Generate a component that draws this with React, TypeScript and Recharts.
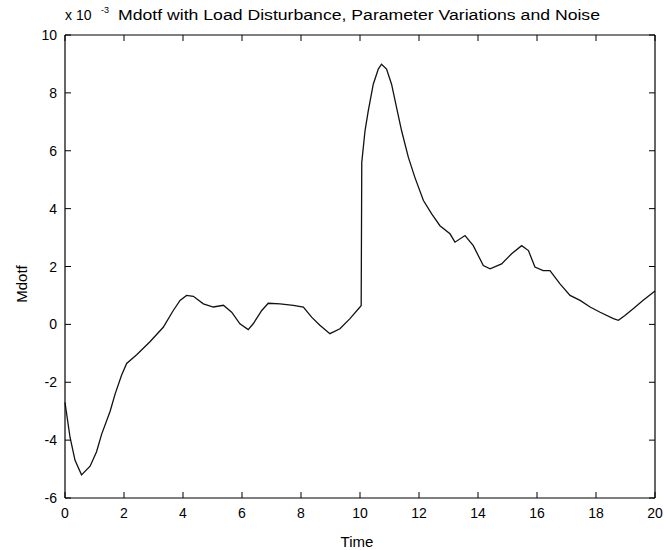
import { LineChart, Line, XAxis, YAxis } from 'recharts'

const TIME = [
  0, 0.17, 0.34, 0.56, 0.85, 1.07, 1.24, 1.53, 1.7, 1.92,
  2.09, 2.43, 2.88, 3.33, 3.67, 3.9, 4.12, 4.35, 4.69, 5.03,
  5.37, 5.65, 5.93, 6.21, 6.38, 6.67, 6.89, 7.29, 7.74, 8.08,
  8.36, 8.64, 8.98, 9.32, 9.66, 10.0, 10.04, 10.06, 10.17, 10.28,
  10.45, 10.62, 10.73, 10.9, 11.07, 11.24, 11.41, 11.64, 11.86, 12.15,
  12.43, 12.71, 13.05, 13.22, 13.56, 13.84, 14.18, 14.41, 14.8, 15.14,
  15.48, 15.71, 15.93, 16.21, 16.44, 16.78, 17.12, 17.46, 17.8, 18.14,
  18.59, 18.76, 18.98, 19.26, 19.6, 20,
]

// Mdotf, in units of 1e-3
const MDOTF = [
  -2.7, -3.9, -4.7, -5.2, -4.9, -4.4, -3.8, -3.0, -2.4, -1.75,
  -1.35, -1.05, -0.6, -0.1, 0.48, 0.83, 1.0, 0.97, 0.71, 0.6,
  0.66, 0.42, 0.02, -0.18, 0.02, 0.48, 0.73, 0.71, 0.66, 0.6,
  0.25, -0.03, -0.32, -0.15, 0.2, 0.6, 0.65, 5.6, 6.69, 7.38,
  8.3, 8.82, 8.99, 8.82, 8.3, 7.49, 6.69, 5.77, 5.08, 4.28,
  3.82, 3.41, 3.13, 2.84, 3.07, 2.72, 2.03, 1.92, 2.09, 2.44,
  2.72, 2.55, 1.98, 1.86, 1.86, 1.4, 1.0, 0.83, 0.6, 0.42,
  0.2, 0.14, 0.31, 0.54, 0.83, 1.15,
]

const X_TICKS = [0, 2, 4, 6, 8, 10, 12, 14, 16, 18, 20]
const Y_TICKS = [-6, -4, -2, 0, 2, 4, 6, 8, 10]

const data = TIME.map((t, i) => ({ t, v: MDOTF[i] }))

const FONT = '"Liberation Sans", Arial, sans-serif'
const TICK_LEN = 6
const AXIS_LINE = { stroke: '#000', strokeWidth: 1.2 }

function BottomTick({ x, y, payload }: any) {
  return (
    <g>
      <line x1={x} y1={y} x2={x} y2={y - TICK_LEN} stroke="#000" />
      <text x={x} y={y + 20} textAnchor="middle" fontSize={14} fontFamily={FONT} fill="#000">
        {payload.value}
      </text>
    </g>
  )
}

function TopTick({ x, y }: any) {
  return <line x1={x} y1={y} x2={x} y2={y + TICK_LEN} stroke="#000" />
}

function LeftTick({ x, y, payload }: any) {
  return (
    <g>
      <line x1={x} y1={y} x2={x + TICK_LEN} y2={y} stroke="#000" />
      <text x={x - 8} y={y + 5} textAnchor="end" fontSize={14} fontFamily={FONT} fill="#000">
        {payload.value}
      </text>
    </g>
  )
}

function RightTick({ x, y }: any) {
  return <line x1={x} y1={y} x2={x - TICK_LEN} y2={y} stroke="#000" />
}

export default function App() {
  return (
    <div style={{ position: 'relative', width: 665, height: 550, background: '#fff' }}>
      <style>{'body{margin:0} #root{width:665px;height:550px;overflow:hidden}'}</style>
      <LineChart
        width={665}
        height={550}
        data={data}
        margin={{ top: 34, right: 9, left: 0, bottom: 0 }}
      >
        <XAxis
          dataKey="t"
          type="number"
          domain={[0, 20]}
          ticks={X_TICKS}
          height={52}
          tickSize={0}
          tickMargin={0}
          tick={<BottomTick />}
          axisLine={AXIS_LINE}
          tickLine={false}
          interval={0}
        />
        <XAxis
          xAxisId="top"
          orientation="top"
          dataKey="t"
          type="number"
          domain={[0, 20]}
          ticks={X_TICKS}
          height={1}
          tickSize={0}
          tickMargin={0}
          tick={<TopTick />}
          axisLine={AXIS_LINE}
          tickLine={false}
          interval={0}
        />
        <YAxis
          type="number"
          domain={[-6, 10]}
          ticks={Y_TICKS}
          width={65}
          tickSize={0}
          tickMargin={0}
          tick={<LeftTick />}
          axisLine={AXIS_LINE}
          tickLine={false}
          interval={0}
          allowDataOverflow
        />
        <YAxis
          yAxisId="right"
          orientation="right"
          type="number"
          domain={[-6, 10]}
          ticks={Y_TICKS}
          width={1}
          tickSize={0}
          tickMargin={0}
          tick={<RightTick />}
          axisLine={AXIS_LINE}
          tickLine={false}
          interval={0}
          allowDataOverflow
        />
        <Line
          type="linear"
          dataKey="v"
          stroke="#111"
          strokeWidth={1.3}
          dot={false}
          isAnimationActive={false}
        />
      </LineChart>
      <svg
        width={665}
        height={550}
        style={{ position: 'absolute', left: 0, top: 0, pointerEvents: 'none' }}
      >
        <text x={65} y={20} fontSize={14} fontFamily={FONT} fill="#000">x 10</text>
        <text x={101} y={13} fontSize={9} fontFamily={FONT} fill="#000">-3</text>
        <text x={118} y={20} fontSize={14} fontFamily={FONT} fill="#000" textLength={482} lengthAdjust="spacingAndGlyphs">
          Mdotf with Load Disturbance, Parameter Variations and Noise
        </text>
        <text x={357} y={547} textAnchor="middle" fontSize={15} fontFamily={FONT} fill="#000">Time</text>
        <text
          x={27}
          y={284}
          textAnchor="middle"
          fontSize={15}
          fontFamily={FONT}
          fill="#000"
          transform="rotate(-90 27 284)"
        >
          Mdotf
        </text>
      </svg>
    </div>
  )
}
